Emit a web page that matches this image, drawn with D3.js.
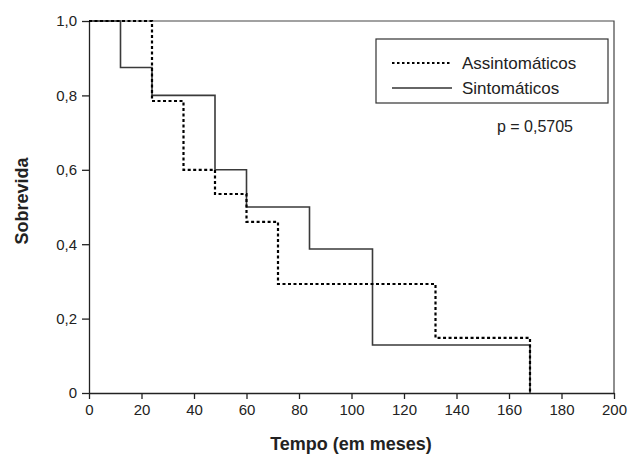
<!DOCTYPE html>
<html>
<head>
<meta charset="utf-8">
<script src="https://cdn.jsdelivr.net/npm/d3@7"></script>
<style>
  html, body { margin:0; padding:0; background:#fff; }
  svg { display:block; font-family:'Liberation Sans', Arial, sans-serif; }
</style>
</head>
<body>
<svg id="chart" width="637" height="456"></svg>
<script>
/* ---------- Data (Kaplan-Meier steps) ---------- */
const assintTimes  = [0, 24, 36, 48, 60, 72, 132, 168];
const assintSurv   = [1.0, 0.785, 0.60, 0.535, 0.46, 0.293, 0.148, 0];
const sintTimes    = [0, 12, 24, 48, 60, 84, 108, 168];
const sintSurv     = [1.0, 0.875, 0.80, 0.60, 0.50, 0.387, 0.129, 0];
const xTicks = [0, 20, 40, 60, 80, 100, 120, 140, 160, 180, 200];
const yTicks = [0, 0.2, 0.4, 0.6, 0.8, 1.0];
const seriesNames = ['Assintomáticos', 'Sintomáticos'];
const pValueText = 'p = 0,5705';

/* ---------- SVG setup ---------- */
const svg = d3.select('#chart');
const margin = { top:21, right:23, bottom:63, left:89 };
const width = 637, height = 456;
const chartWidth  = width - margin.left - margin.right;
const chartHeight = height - margin.top - margin.bottom;

const g = svg.append('g').attr('transform', `translate(${margin.left},${margin.top})`);
const x = d3.scaleLinear().domain([0,200]).range([0, chartWidth]);
const y = d3.scaleLinear().domain([0,1]).range([chartHeight, 0]);

const fmtY = d => d === 0 ? '0' : d3.format('.1f')(d).replace('.', ',');

// frame (top + right)
g.append('path')
  .attr('d', `M0,0H${chartWidth}V${chartHeight}`)
  .attr('fill','none').attr('stroke','#444').attr('stroke-width',1.2);

const xAxis = g.append('g').attr('transform', `translate(0,${chartHeight})`)
  .call(d3.axisBottom(x).tickValues(xTicks).tickSize(6).tickSizeOuter(0).tickPadding(5));
const yAxis = g.append('g')
  .call(d3.axisLeft(y).tickValues(yTicks).tickFormat(fmtY).tickSize(7).tickSizeOuter(0).tickPadding(5));

[xAxis, yAxis].forEach(a => {
  a.selectAll('path, line').attr('stroke','#222').attr('stroke-width',1.3);
  a.selectAll('text').attr('fill','#222')
    .style('font-family',"'Liberation Sans', Arial, sans-serif").style('font-size','15px');
});

/* ---------- Curves ---------- */
const line = d3.line().x(d => x(d.t)).y(d => y(d.s)).curve(d3.curveStepAfter);
const stepPath = (ts, ss) => line(ts.map((t,i) => ({t, s:ss[i]})));

g.append('path')
  .attr('d', stepPath(sintTimes, sintSurv))
  .attr('fill','none').attr('stroke','#3a3a3a').attr('stroke-width',1.6);

g.append('path')
  .attr('d', stepPath(assintTimes, assintSurv))
  .attr('fill','none').attr('stroke','#000').attr('stroke-width',2.2)
  .attr('stroke-dasharray','3,2.5');

/* ---------- Legend ---------- */
const legend = svg.append('g').attr('transform','translate(376,39)');
legend.append('rect').attr('width',232).attr('height',64)
  .attr('fill','#fff').attr('stroke','#333').attr('stroke-width',1.2);
const legendItems = [
  { name: seriesNames[0], dash:'2.5,2.5', sw:2, color:'#000' },
  { name: seriesNames[1], dash:null, sw:1.4, color:'#333' }
];
legendItems.forEach((d,i) => {
  const yy = 24 + i*25;
  legend.append('line').attr('x1',16).attr('x2',76).attr('y1',yy).attr('y2',yy)
    .attr('stroke',d.color).attr('stroke-width',d.sw).attr('stroke-dasharray',d.dash);
  legend.append('text').attr('x',86).attr('y',yy+6)
    .style('font-size','17px').attr('fill','#222').text(d.name);
});

svg.append('text').attr('x',573).attr('y',132).attr('text-anchor','end')
  .style('font-size','16px').attr('fill','#222').text(pValueText);

/* ---------- Axis titles ---------- */
svg.append('text').attr('x',351).attr('y',450).attr('text-anchor','middle')
  .style('font-size','18px').style('font-weight','bold').attr('fill','#222')
  .text('Tempo (em meses)');
svg.append('text').attr('transform','translate(28,201) rotate(-90)').attr('text-anchor','middle')
  .style('font-size','18px').style('font-weight','bold').attr('fill','#222')
  .text('Sobrevida');
</script>
</body>
</html>
